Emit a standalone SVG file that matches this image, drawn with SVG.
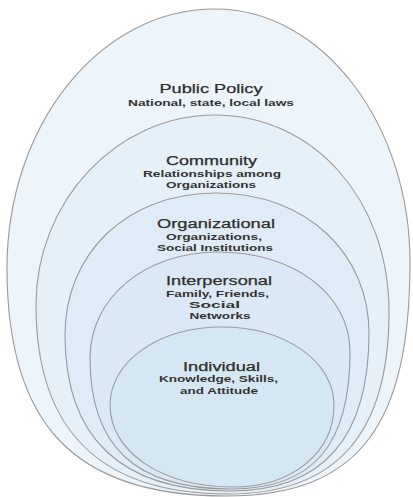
<svg xmlns="http://www.w3.org/2000/svg" width="413" height="497" viewBox="0 0 413 497">
<style>
.ring{stroke:#9a9a9a;stroke-width:1.1}
.t{font-family:"Liberation Sans",Arial,sans-serif;font-size:12.5px;fill:#2e2e2e;stroke:#2e2e2e;stroke-width:0.25;text-anchor:middle}
.s{font-family:"Liberation Sans",Arial,sans-serif;font-size:9.5px;fill:#333;text-anchor:middle;font-weight:bold}
</style>
<rect width="413" height="497" fill="#ffffff"/>
<g id="public-policy">
<path class="ring" fill="#edf4fa" d="M215,9 C98,9 7,127 7,268 C7,422 72,496 226,496 C360,496 410,424 410,262 C410,126 324,9 215,9 Z"/>
<text class="t" x="211" y="93" textLength="103" lengthAdjust="spacingAndGlyphs">Public Policy</text>
<text class="s" x="211" y="106" textLength="166" lengthAdjust="spacingAndGlyphs">National, state, local laws</text>
</g>
<g id="community">
<path class="ring" fill="#e5f0f8" d="M215,115 C116,115 36,202 36,305 C36,430 100,494 228,494 C338,494 389,432 389,312 C389,198 312,115 215,115 Z"/>
<text class="t" x="211.5" y="165" textLength="91" lengthAdjust="spacingAndGlyphs">Community</text>
<text class="s" x="212" y="177" textLength="138" lengthAdjust="spacingAndGlyphs">Relationships among</text>
<text class="s" x="211" y="188" textLength="90" lengthAdjust="spacingAndGlyphs">Organizations</text>
</g>
<g id="organizational">
<path class="ring" fill="#dfecf7" d="M216,193 C125,193 65,255 65,335 C65,437 120,491 230,491 C324,491 369,437 369,333 C369,255 308,193 216,193 Z"/>
<text class="t" x="216" y="228" textLength="118" lengthAdjust="spacingAndGlyphs">Organizational</text>
<text class="s" x="214" y="240" textLength="96" lengthAdjust="spacingAndGlyphs">Organizations,</text>
<text class="s" x="215" y="251" textLength="116" lengthAdjust="spacingAndGlyphs">Social Institutions</text>
</g>
<g id="interpersonal">
<path class="ring" fill="#dae9f5" d="M218,252 C146,252 90,297 90,358 C90,446 135,489 231,489 C314,489 350,444 350,352 C350,293 292,252 218,252 Z"/>
<text class="t" x="219" y="285" textLength="106" lengthAdjust="spacingAndGlyphs">Interpersonal</text>
<text class="s" x="217.5" y="297" textLength="103" lengthAdjust="spacingAndGlyphs">Family, Friends,</text>
<text class="s" x="214.5" y="308" textLength="51" lengthAdjust="spacingAndGlyphs">Social</text>
<text class="s" x="220" y="319" textLength="61" lengthAdjust="spacingAndGlyphs">Networks</text>
</g>
<g id="individual">
<path class="ring" fill="#d6e7f4" d="M222,327 C158,327 110,362 110,405 C110,452 162,487 233,487 C293,487 334,452 334,405 C334,362 286,327 222,327 Z"/>
<text class="t" x="221.5" y="371" textLength="77" lengthAdjust="spacingAndGlyphs">Individual</text>
<text class="s" x="218.5" y="382" textLength="119" lengthAdjust="spacingAndGlyphs">Knowledge, Skills,</text>
<text class="s" x="219" y="394" textLength="78" lengthAdjust="spacingAndGlyphs">and Attitude</text>
</g>
<g id="connectors"></g>
</svg>
